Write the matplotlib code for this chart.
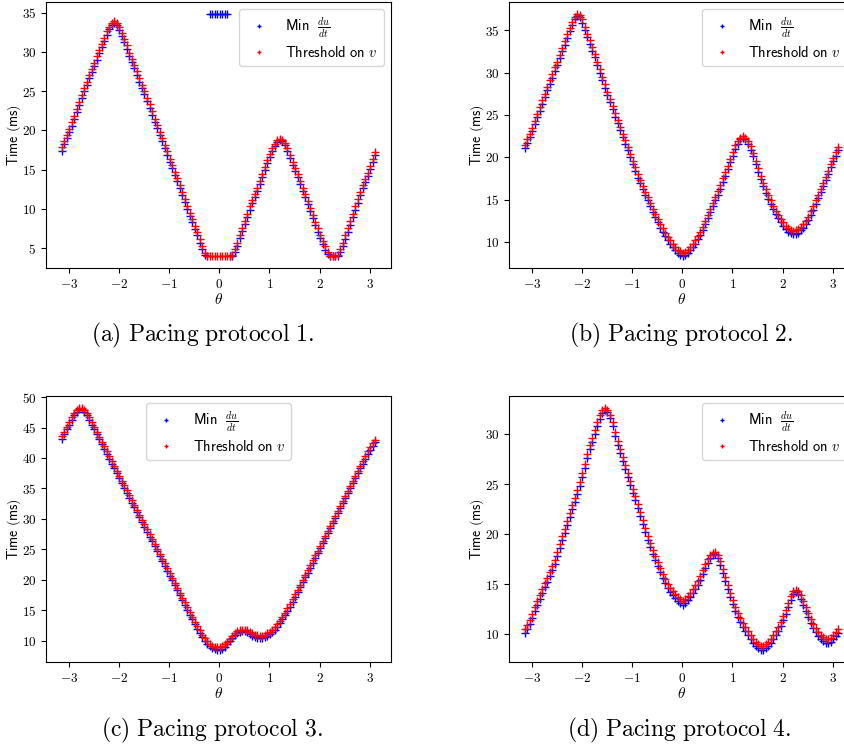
import numpy as np
import matplotlib
matplotlib.use("Agg")
import matplotlib.pyplot as plt
from matplotlib.ticker import FuncFormatter

plt.rcParams['mathtext.fontset'] = 'cm'

# phase angle (same sampling for every protocol)
theta = [-3.14, -3.09, -3.04, -2.99, -2.94, -2.89, -2.84, -2.79, -2.74, -2.69,
         -2.64, -2.59, -2.54, -2.49, -2.44, -2.39, -2.34, -2.29, -2.24, -2.19,
         -2.14, -2.09, -2.04, -1.99, -1.94, -1.89, -1.84, -1.79, -1.74, -1.69,
         -1.64, -1.59, -1.54, -1.49, -1.44, -1.39, -1.34, -1.29, -1.24, -1.19,
         -1.14, -1.09, -1.04, -0.99, -0.94, -0.89, -0.84, -0.79, -0.74, -0.69,
         -0.64, -0.59, -0.54, -0.49, -0.44, -0.39, -0.34, -0.29, -0.24, -0.19,
         -0.14, -0.09, -0.04, 0.01, 0.06, 0.11, 0.16, 0.21, 0.26, 0.31,
         0.36, 0.41, 0.46, 0.51, 0.56, 0.61, 0.66, 0.71, 0.76, 0.81,
         0.86, 0.91, 0.96, 1.01, 1.06, 1.11, 1.16, 1.21, 1.26, 1.31,
         1.36, 1.41, 1.46, 1.51, 1.56, 1.61, 1.66, 1.71, 1.76, 1.81,
         1.86, 1.91, 1.96, 2.01, 2.06, 2.11, 2.16, 2.21, 2.26, 2.31,
         2.36, 2.41, 2.46, 2.51, 2.56, 2.61, 2.66, 2.71, 2.76, 2.81,
         2.86, 2.91, 2.96, 3.01, 3.06, 3.11]

# protocol 1
mindudt_1 = [17.4, 18.2, 19.0, 19.8, 20.6, 21.4, 22.3, 23.2, 24.1, 25.0,
             25.8, 26.6, 27.4, 28.2, 29.0, 29.8, 30.6, 31.4, 32.2, 32.9,
             33.4, 33.7, 33.4, 32.8, 32.0, 31.2, 30.4, 29.5, 28.7, 27.9,
             27.1, 26.2, 25.4, 24.6, 23.7, 22.9, 22.0, 21.1, 20.3, 19.4,
             18.6, 17.7, 16.9, 16.0, 15.2, 14.3, 13.5, 12.6, 11.8, 10.9,
             10.0, 9.1, 8.3, 7.4, 6.6, 5.7, 4.9, 4.1, 4.0, 34.8,
             34.8, 34.8, 34.8, 34.8, 34.8, 34.8, 34.8, 4.0, 4.0, 4.5,
             5.3, 6.3, 7.2, 8.1, 9.0, 9.9, 10.7, 11.5, 12.3, 13.1,
             14.0, 14.9, 15.8, 16.6, 17.3, 18.0, 18.5, 18.8, 18.6, 18.1,
             17.3, 16.5, 15.6, 14.8, 14.0, 13.2, 12.3, 11.5, 10.6, 9.7,
             8.8, 7.9, 7.1, 6.3, 5.5, 4.8, 4.2, 4.0, 4.0, 4.0,
             4.0, 4.5, 5.3, 6.2, 7.1, 8.0, 8.9, 9.9, 10.8, 11.7,
             12.6, 13.4, 14.2, 15.1, 15.9, 16.8]
thresh_1 = [17.9, 18.6, 19.4, 20.2, 21.0, 21.8, 22.7, 23.6, 24.5, 25.4,
            26.2, 27.0, 27.8, 28.6, 29.4, 30.2, 31.0, 31.8, 32.6, 33.2,
            33.7, 33.9, 33.7, 33.2, 32.4, 31.6, 30.8, 29.9, 29.1, 28.3,
            27.5, 26.6, 25.8, 25.0, 24.1, 23.3, 22.4, 21.5, 20.7, 19.8,
            19.0, 18.1, 17.3, 16.4, 15.6, 14.7, 13.9, 13.0, 12.2, 11.3,
            10.4, 9.5, 8.7, 7.8, 7.0, 6.1, 5.3, 4.4, 4.0, 4.0,
            4.0, 4.0, 4.0, 4.0, 4.0, 4.0, 4.0, 4.0, 4.1, 4.9,
            5.7, 6.7, 7.6, 8.5, 9.4, 10.3, 11.1, 11.9, 12.7, 13.5,
            14.4, 15.3, 16.2, 17.0, 17.7, 18.3, 18.8, 18.9, 18.8, 18.4,
            17.7, 16.9, 16.0, 15.2, 14.4, 13.6, 12.7, 11.9, 11.0, 10.1,
            9.2, 8.3, 7.5, 6.7, 5.9, 5.2, 4.5, 4.0, 4.0, 4.0,
            4.1, 4.9, 5.7, 6.6, 7.5, 8.4, 9.3, 10.3, 11.2, 12.1,
            13.0, 13.8, 14.6, 15.5, 16.3, 17.2]

# protocol 2
mindudt_2 = [21.1, 21.7, 22.4, 23.1, 23.9, 24.7, 25.5, 26.3, 27.1, 27.9,
             28.7, 29.4, 30.2, 30.9, 31.7, 32.5, 33.3, 34.1, 34.9, 35.6,
             36.3, 36.7, 36.5, 35.9, 35.0, 34.2, 33.4, 32.6, 31.8, 30.9,
             30.0, 29.1, 28.2, 27.3, 26.5, 25.7, 24.8, 24.0, 23.2, 22.4,
             21.6, 20.8, 20.0, 19.2, 18.4, 17.6, 16.9, 16.2, 15.5, 14.9,
             14.2, 13.5, 12.9, 12.3, 11.7, 11.2, 10.7, 10.2, 9.8, 9.4,
             9.0, 8.7, 8.5, 8.35, 8.4, 8.7, 9.0, 9.4, 9.8, 10.3,
             10.8, 11.4, 12.1, 12.8, 13.5, 14.2, 14.9, 15.6, 16.3, 17.1,
             17.8, 18.6, 19.4, 20.2, 21.0, 21.6, 22.1, 22.3, 22.1, 21.6,
             20.9, 20.1, 19.2, 18.3, 17.4, 16.6, 15.8, 15.1, 14.5, 13.9,
             13.3, 12.8, 12.3, 11.9, 11.5, 11.2, 11.0, 10.9, 10.95, 11.1,
             11.4, 11.7, 12.1, 12.6, 13.2, 13.8, 14.5, 15.2, 15.9, 16.6,
             17.3, 18.0, 18.8, 19.5, 20.2, 20.8]
thresh_2 = [21.5, 22.1, 22.8, 23.5, 24.3, 25.1, 25.9, 26.7, 27.5, 28.3,
            29.1, 29.8, 30.6, 31.3, 32.1, 32.9, 33.7, 34.5, 35.3, 36.0,
            36.6, 36.9, 36.8, 36.3, 35.4, 34.6, 33.8, 33.0, 32.2, 31.3,
            30.4, 29.5, 28.6, 27.7, 26.9, 26.1, 25.2, 24.4, 23.6, 22.8,
            22.0, 21.2, 20.4, 19.6, 18.8, 18.0, 17.3, 16.6, 15.9, 15.3,
            14.6, 13.9, 13.3, 12.7, 12.1, 11.6, 11.1, 10.6, 10.2, 9.8,
            9.4, 9.1, 8.9, 8.75, 8.8, 9.1, 9.4, 9.8, 10.2, 10.7,
            11.2, 11.8, 12.5, 13.2, 13.9, 14.6, 15.3, 16.0, 16.7, 17.5,
            18.2, 19.0, 19.8, 20.6, 21.4, 21.9, 22.3, 22.5, 22.3, 21.9,
            21.3, 20.5, 19.6, 18.7, 17.8, 17.0, 16.2, 15.5, 14.9, 14.3,
            13.7, 13.2, 12.7, 12.3, 11.9, 11.6, 11.4, 11.3, 11.35, 11.5,
            11.8, 12.1, 12.5, 13.0, 13.6, 14.2, 14.9, 15.6, 16.3, 17.0,
            17.7, 18.4, 19.2, 19.9, 20.6, 21.2]

# protocol 3
mindudt_3 = [43.2, 43.9, 44.7, 45.5, 46.3, 47.0, 47.6, 48.0, 48.0, 47.6,
             47.0, 46.3, 45.5, 44.7, 43.9, 43.1, 42.3, 41.5, 40.7, 39.9,
             39.1, 38.3, 37.5, 36.7, 35.9, 35.1, 34.3, 33.5, 32.7, 31.9,
             31.1, 30.3, 29.5, 28.7, 27.9, 27.1, 26.3, 25.5, 24.7, 23.9,
             23.1, 22.3, 21.5, 20.7, 19.9, 19.1, 18.3, 17.5, 16.7, 15.9,
             15.1, 14.3, 13.5, 12.7, 12.0, 11.3, 10.6, 10.0, 9.5, 9.1,
             8.8, 8.6, 8.5, 8.5, 8.7, 9.0, 9.4, 9.9, 10.4, 10.9,
             11.3, 11.5, 11.6, 11.6, 11.4, 11.1, 10.8, 10.6, 10.5, 10.4,
             10.4, 10.6, 10.8, 11.1, 11.4, 11.8, 12.3, 12.9, 13.5, 14.2,
             14.9, 15.6, 16.4, 17.2, 18.0, 18.8, 19.6, 20.4, 21.2, 22.0,
             22.8, 23.6, 24.4, 25.2, 26.0, 26.8, 27.7, 28.5, 29.3, 30.1,
             30.9, 31.8, 32.6, 33.4, 34.2, 35.0, 35.9, 36.7, 37.5, 38.3,
             39.1, 39.9, 40.7, 41.4, 42.0, 42.6]
thresh_3 = [43.6, 44.3, 45.1, 45.9, 46.7, 47.4, 47.9, 48.2, 48.2, 47.9,
            47.4, 46.7, 45.9, 45.1, 44.3, 43.5, 42.7, 41.9, 41.1, 40.3,
            39.5, 38.7, 37.9, 37.1, 36.3, 35.5, 34.7, 33.9, 33.1, 32.3,
            31.5, 30.7, 29.9, 29.1, 28.3, 27.5, 26.7, 25.9, 25.1, 24.3,
            23.5, 22.7, 21.9, 21.1, 20.3, 19.5, 18.7, 17.9, 17.1, 16.3,
            15.5, 14.7, 13.9, 13.1, 12.4, 11.7, 11.0, 10.4, 9.9, 9.5,
            9.2, 9.0, 8.9, 8.9, 9.1, 9.4, 9.8, 10.3, 10.8, 11.3,
            11.6, 11.8, 11.8, 11.8, 11.7, 11.4, 11.2, 11.0, 10.9, 10.8,
            10.8, 11.0, 11.2, 11.5, 11.8, 12.2, 12.7, 13.3, 13.9, 14.6,
            15.3, 16.0, 16.8, 17.6, 18.4, 19.2, 20.0, 20.8, 21.6, 22.4,
            23.2, 24.0, 24.8, 25.6, 26.4, 27.2, 28.1, 28.9, 29.7, 30.5,
            31.3, 32.2, 33.0, 33.8, 34.6, 35.4, 36.3, 37.1, 37.9, 38.7,
            39.5, 40.3, 41.1, 41.8, 42.4, 43.0]

# protocol 4
mindudt_4 = [10.1, 10.5, 11.0, 11.6, 12.3, 12.9, 13.5, 14.1, 14.7, 15.2,
             15.8, 16.4, 17.0, 17.8, 18.6, 19.4, 20.1, 20.9, 21.7, 22.5,
             23.2, 24.0, 24.8, 25.7, 26.6, 27.6, 28.5, 29.2, 30.0, 30.8,
             31.5, 32.1, 32.4, 32.2, 31.6, 30.8, 29.8, 28.9, 28.1, 27.3,
             26.5, 25.7, 24.9, 24.1, 23.4, 22.6, 21.8, 21.0, 20.2, 19.4,
             18.7, 18.0, 17.4, 16.8, 16.2, 15.6, 15.1, 14.6, 14.2, 13.9,
             13.6, 13.3, 13.1, 12.95, 13.1, 13.4, 13.7, 14.1, 14.5, 14.9,
             15.4, 16.0, 16.6, 17.1, 17.6, 17.95, 18.0, 17.6, 16.9, 16.1,
             15.3, 14.5, 13.7, 13.0, 12.3, 11.7, 11.2, 10.7, 10.3, 9.9,
             9.5, 9.1, 8.8, 8.6, 8.45, 8.45, 8.6, 8.8, 9.1, 9.5,
             9.9, 10.3, 10.8, 11.4, 12.0, 12.7, 13.4, 14.0, 14.2, 14.0,
             13.5, 12.9, 12.3, 11.7, 11.1, 10.6, 10.2, 9.8, 9.5, 9.3,
             9.15, 9.1, 9.2, 9.5, 9.8, 10.1]
thresh_4 = [10.5, 10.9, 11.4, 12.0, 12.7, 13.3, 13.9, 14.5, 15.1, 15.6,
            16.2, 16.8, 17.4, 18.2, 19.0, 19.8, 20.5, 21.3, 22.1, 22.9,
            23.6, 24.4, 25.2, 26.1, 27.0, 28.0, 28.9, 29.6, 30.4, 31.2,
            31.9, 32.4, 32.6, 32.4, 31.9, 31.2, 30.2, 29.3, 28.5, 27.7,
            26.9, 26.1, 25.3, 24.5, 23.8, 23.0, 22.2, 21.4, 20.6, 19.8,
            19.1, 18.4, 17.8, 17.2, 16.6, 16.0, 15.5, 15.0, 14.6, 14.3,
            14.0, 13.7, 13.5, 13.35, 13.5, 13.8, 14.1, 14.5, 14.9, 15.3,
            15.8, 16.4, 17.0, 17.5, 17.9, 18.15, 18.2, 17.9, 17.3, 16.5,
            15.7, 14.9, 14.1, 13.4, 12.7, 12.1, 11.6, 11.1, 10.7, 10.3,
            9.9, 9.5, 9.2, 9.0, 8.85, 8.85, 9.0, 9.2, 9.5, 9.9,
            10.3, 10.7, 11.2, 11.8, 12.4, 13.1, 13.8, 14.3, 14.45, 14.3,
            13.9, 13.3, 12.7, 12.1, 11.5, 11.0, 10.6, 10.2, 9.9, 9.7,
            9.55, 9.5, 9.6, 9.9, 10.2, 10.5]

panels = [
    (mindudt_1, thresh_1, "(a) Pacing protocol 1.", 'upper right'),
    (mindudt_2, thresh_2, "(b) Pacing protocol 2.", 'upper right'),
    (mindudt_3, thresh_3, "(c) Pacing protocol 3.", 'upper center'),
    (mindudt_4, thresh_4, "(d) Pacing protocol 4.", 'upper right'),
]

W, H = 845, 747
fig = plt.figure(figsize=(W / 100, H / 100), dpi=100)

# axes boxes in pixels: left, top, width, height
boxes = [(46, 2, 345, 266), (509, 2, 345, 266),
         (46, 396, 345, 266), (509, 396, 345, 266)]
captions_xy = [(203, 335), (681, 335), (212, 730), (679, 730)]

fmt = FuncFormatter(lambda v, p: "$%g$" % v)

for (blue, red, cap, loc), (l, t, w, h), (cx, cy) in zip(panels, boxes, captions_xy):
    ax = fig.add_axes([l / W, 1 - (t + h) / H, w / W, h / H])
    ax.plot(theta, blue, '+', color='b', ms=6, mew=1.0,
            label=r"$\mathsf{Min}\ \ \frac{du}{dt}$")
    ax.plot(theta, red, '+', color='r', ms=6, mew=1.0,
            label=r"$\mathsf{Threshold\ on}\ v$")
    ax.xaxis.set_major_formatter(fmt)
    ax.yaxis.set_major_formatter(fmt)
    ax.tick_params(labelsize=9.5)
    ax.set_xlabel(r"$\theta$", fontsize=11, labelpad=1)
    ax.set_ylabel(r"$\mathsf{Time\ (ms)}$", fontsize=10)
    ax.yaxis.set_label_coords(-0.066, 0.5)
    ax.legend(loc=loc, fontsize=10.5, markerscale=0.6, labelspacing=0.35)
    fig.text(cx / W, 1 - cy / H, r"$\mathrm{" + cap.replace(" ", r"\ ") + "}$",
             ha='center', va='center', fontsize=17)

plt.savefig("out.png", dpi=100)
